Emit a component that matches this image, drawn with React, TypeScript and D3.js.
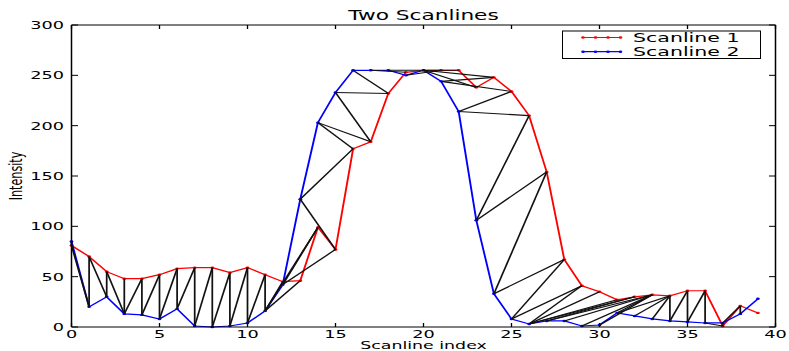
import React from 'react';
import * as d3 from 'd3';

const indices = [0,1,2,3,4,5,6,7,8,9,10,11,12,13,14,15,16,17,18,19,20,21,22,23,24,25,26,27,28,29,30,31,32,33,34,35,36,37,38,39];
const scanline1 = [81,70,55,48,48,52,58,59,59,54,59,52,45,46,99,77,177,184,232,253,255,255,255,238,248,234,210,154,67,41,35,27,30,32,31,36,36,1,21,14];
const scanline2 = [85,20,30,13,12,8,18,1,0,1,4,16,42,127,203,233,255,255,255,250,255,244,214,106,33,8,3,6,6,1,2,14,11,8,6,5,4,4,13,28];

// warping path pairs: index into scanline1 / scanline2
const alignA = [0,0,1,1,2,2,3,4,4,5,5,6,6,7,7,8,8,9,9,10,10,11,11,12,13,14,14,15,15,16,16,17,17,18,18,19,20,21,22,23,24,24,25,25,26,26,27,27,28,28,29,29,30,31,32,32,33,33,33,33,33,34,34,34,34,35,35,36,36,37,37,38,38];
const alignB = [0,1,1,2,2,3,3,3,4,4,5,5,6,6,7,7,8,8,9,9,10,10,11,11,11,11,12,12,13,13,14,14,15,15,16,17,18,19,20,20,20,21,21,22,22,23,23,24,24,25,25,26,26,26,26,27,27,28,29,30,31,31,32,33,34,34,35,35,36,36,37,37,38];

const xTicks = [0,5,10,15,20,25,30,35,40];
const yTicks = [0,50,100,150,200,250,300];
const seriesNames = ['Scanline 1','Scanline 2'];
const seriesColors = ['#ff0000','#0000ff'];
const titleText = 'Two Scanlines';
const xLabel = 'Scanline index';
const yLabel = 'Intensity';

const SX = 1.58; // horizontal stretch of the reference
const FONT = "'DejaVu Sans', sans-serif";

function StretchText({x, y, size, anchor = 'start', rotate = 0, children}: any) {
  return (
    <g transform={`translate(${x},${y}) scale(${SX},1) rotate(${rotate})`}>
      <text x={0} y={0} fontSize={size} fontFamily={FONT} textAnchor={anchor} fill="#000">{children}</text>
    </g>
  );
}

export default function App() {
  const W = 789, H = 351;
  const L = 71.5, R = 775.5, T = 25, B = 327;
  const x = d3.scaleLinear().domain([0, 40]).range([L / SX, R / SX]);
  const xs = (v: number) => x(v) * SX;
  const y = d3.scaleLinear().domain([0, 300]).range([B, T]);
  const line = d3.line<number>().x((d, i) => x(indices[i])).y(d => y(d));
  const series = [scanline1, scanline2];

  return (
    <svg width={W} height={H} style={{position: 'absolute', left: 0, top: 0, background: '#fff'}}>
      <rect x={0} y={0} width={W} height={H} fill="#fff" />
      <g transform={`scale(${SX},1)`}>
        {series.map((s, k) => (
          <g key={k}>
            <path d={line(s) || ''} fill="none" stroke={seriesColors[k]} strokeWidth={1.2} />
            {s.map((v, i) => (
              <circle key={i} cx={x(indices[i])} cy={y(v)} r={1.2} fill={seriesColors[k]} />
            ))}
          </g>
        ))}
        {alignA.map((a, i) => (
          <line key={i} x1={x(indices[a])} y1={y(scanline1[a])} x2={x(indices[alignB[i]])} y2={y(scanline2[alignB[i]])}
            stroke="#111" strokeWidth={1.1} />
        ))}
      </g>
      {/* ticks */}
      {xTicks.map(t => (
        <g key={'xt' + t}>
          <line x1={xs(t)} x2={xs(t)} y1={B} y2={B - 4} stroke="#000" strokeWidth={1.3} />
          <line x1={xs(t)} x2={xs(t)} y1={T} y2={T + 4} stroke="#000" strokeWidth={1.3} />
          <StretchText x={xs(t)} y={337.6} size={11.2} anchor="middle">{String(t)}</StretchText>
        </g>
      ))}
      {yTicks.map(t => (
        <g key={'yt' + t}>
          <line x1={L} x2={L + 6.5} y1={y(t)} y2={y(t)} stroke="#000" strokeWidth={1} />
          <line x1={R} x2={R - 6.5} y1={y(t)} y2={y(t)} stroke="#000" strokeWidth={1} />
          <StretchText x={64} y={y(t) + 4.1} size={11.2} anchor="end">{String(t)}</StretchText>
        </g>
      ))}
      {/* frame */}
      <line x1={L} x2={R} y1={T} y2={T} stroke="#000" strokeWidth={1} />
      <line x1={L} x2={R} y1={B} y2={B} stroke="#000" strokeWidth={1} />
      <line x1={L} x2={L} y1={T} y2={B} stroke="#000" strokeWidth={1.5} />
      <line x1={R} x2={R} y1={T} y2={B} stroke="#000" strokeWidth={1.5} />
      {/* labels */}
      <StretchText x={(L + R) / 2} y={19.5} size={13.7} anchor="middle">{titleText}</StretchText>
      <StretchText x={(L + R) / 2} y={349.2} size={11} anchor="middle">{xLabel}</StretchText>
      <StretchText x={22} y={(T + B) / 2} size={11.2} anchor="middle" rotate={-90}>{yLabel}</StretchText>
      {/* legend */}
      <rect x={562.5} y={31} width={198} height={27.5} fill="#fff" stroke="#000" strokeWidth={1} />
      {seriesNames.map((n, k) => {
        const ly = 37.5 + k * 14.2;
        return (
          <g key={n}>
            <line x1={582} x2={621} y1={ly} y2={ly} stroke={seriesColors[k]} strokeWidth={1.2} />
            {[0, 1, 2, 3].map(j => (
              <ellipse key={j} cx={583 + j * 12.5} cy={ly} rx={1.8} ry={1.2} fill={seriesColors[k]} />
            ))}
            <StretchText x={633} y={ly + 4.6} size={13}>{n}</StretchText>
          </g>
        );
      })}
    </svg>
  );
}
